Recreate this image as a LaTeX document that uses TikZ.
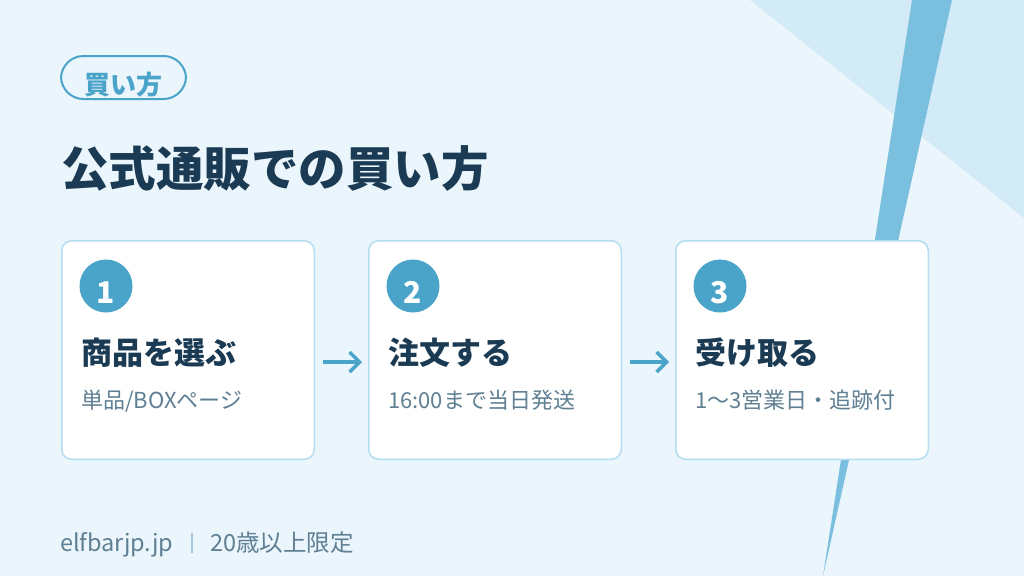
\documentclass[tikz,border=0pt]{standalone}
\usepackage{fontspec}
\setmainfont{Noto Sans CJK JP}
\usetikzlibrary{arrows.meta,positioning,calc}
\definecolor{Sky}{HTML}{EAF5FC}
\definecolor{Pale}{HTML}{D3EAF7}
\definecolor{Stripe}{HTML}{7BBFDE}
\definecolor{Accent}{HTML}{4AA3C8}
\definecolor{Navy}{HTML}{1A3B53}
\definecolor{Edge}{HTML}{B5DDF0}
\definecolor{Muted}{HTML}{5F7F93}
\definecolor{Bar}{HTML}{A9C7D8}
\tikzset{
 card/.style={draw=Edge, line width=1.5pt, rounded corners=10pt, fill=white, minimum width=252.5pt, minimum height=218.5pt},
 badge/.style={draw=Accent, line width=2pt, rounded corners=22.5pt, minimum width=125pt, minimum height=43pt, inner sep=0pt, text height=34pt, text depth=0pt, text=Accent, font=\bfseries\fontsize{26}{26}\selectfont},
 pagetitle/.style={anchor=base west, inner sep=0pt, text=Navy, font=\bfseries\fontsize{47.5}{47.5}\selectfont},
 stepnum/.style={circle, fill=Accent, minimum size=53pt, inner sep=0pt, text height=34pt, text depth=0pt, text=white, font=\bfseries\fontsize{30}{30}\selectfont},
 steptitle/.style={anchor=base west, inner sep=0pt, text=Navy, font=\bfseries\fontsize{31}{31}\selectfont},
 stepnote/.style={anchor=base west, inner sep=0pt, text=Muted, font=\fontsize{22}{22}\selectfont},
 foot/.style={anchor=base west, inner sep=0pt, text=Muted, font=\fontsize{23.5}{23.5}\selectfont},
 sepbar/.style={fill=Bar, minimum width=1.3pt, minimum height=20pt, inner sep=0pt},
 arrow/.style={-{Straight Barb[length=10pt,width=20pt]}, line width=3.5pt, draw=Accent, shorten <=8pt, shorten >=6pt}
}
\begin{document}
\begin{tikzpicture}[x=1pt,y=-1pt,node distance=53pt]
\fill[Sky] (0,0) rectangle (1024,576);
\useasboundingbox (0,0) rectangle (1024,576);
% corner decoration
\fill[Pale] (750,0) -- (1024,0) -- (1024,218) -- cycle;
\fill[Stripe] (912,0) -- (952,0) -- (823,576) -- cycle;

\node[badge] (tag) at (123.5,77.5) {買い方};
\node[pagetitle] (title) at (61,186) {公式通販での買い方};

% steps
\node[card] (c1) at (188,350) {};
\node[card,right=of c1] (c2) {};
\node[card,right=of c2] (c3) {};

\node[stepnum] (n1) at ($(c1.north west)+(45,46)$) {1};
\node[stepnum] (n2) at ($(c2.north west)+(45,46)$) {2};
\node[stepnum] (n3) at ($(c3.north west)+(45,46)$) {3};

\node[steptitle] (t1) at ($(c1.north west)+(20,124)$) {商品を選ぶ};
\node[steptitle] (t2) at ($(c2.north west)+(20,124)$) {注文する};
\node[steptitle] (t3) at ($(c3.north west)+(20,124)$) {受け取る};

\node[stepnote] (s1) at ($(c1.north west)+(20,168)$) {単品/BOXページ};
\node[stepnote] (s2) at ($(c2.north west)+(20,168)$) {16:00まで当日発送};
\node[stepnote] (s3) at ($(c3.north west)+(20,168)$) {1〜3営業日・追跡付};

\draw[arrow] ([yshift=-12pt]c1.east) -- ([yshift=-12pt]c2.west);
\draw[arrow] ([yshift=-12pt]c2.east) -- ([yshift=-12pt]c3.west);

% footer
\node[foot] (site) at (60,551) {elfbarjp.jp};
\node[sepbar] (bar) at (192,543) {};
\node[foot] (age) at (210,551) {20歳以上限定};
\end{tikzpicture}
\end{document}
